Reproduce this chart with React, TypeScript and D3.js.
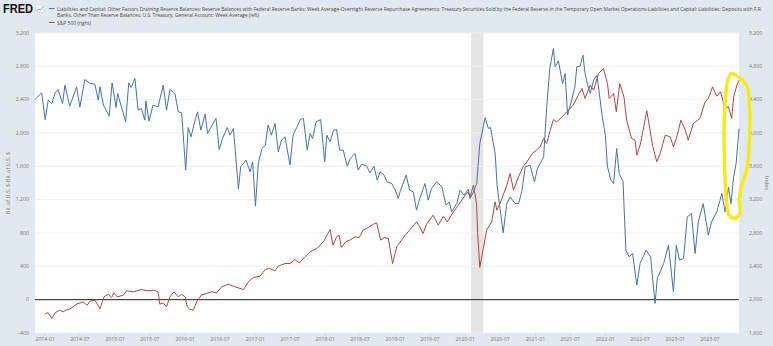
import React from "react";
import * as d3 from "d3";

const blueDates = ["2013-11-09","2013-12-14","2014-01-01","2014-01-17","2014-02-05","2014-02-22","2014-03-09","2014-04-02","2014-04-14","2014-05-09","2014-06-14","2014-07-01","2014-07-27","2014-08-22","2014-09-17","2014-10-05","2014-10-14","2014-11-01","2014-12-01","2014-12-16","2015-01-06","2015-01-14","2015-02-05","2015-02-25","2015-03-13","2015-03-26","2015-04-14","2015-05-01","2015-05-18","2015-06-05","2015-06-10","2015-06-27","2015-07-17","2015-08-13","2015-09-09","2015-09-26","2015-10-14","2015-11-09","2015-11-26","2015-12-14","2016-01-04","2016-01-17","2016-02-01","2016-02-22","2016-03-06","2016-03-23","2016-04-14","2016-04-27","2016-05-18","2016-06-10","2016-06-27","2016-07-14","2016-08-08","2016-08-22","2016-09-09","2016-10-05","2016-10-17","2016-11-14","2016-12-05","2016-12-18","2017-01-02","2017-01-17","2017-02-05","2017-02-22","2017-03-09","2017-03-26","2017-04-14","2017-05-01","2017-05-18","2017-06-05","2017-07-01","2017-07-17","2017-08-05","2017-08-25","2017-09-09","2017-09-29","2017-10-14","2017-10-27","2017-11-14","2017-12-08","2017-12-29","2018-01-09","2018-01-26","2018-02-13","2018-03-01","2018-03-17","2018-04-05","2018-04-25","2018-05-12","2018-06-05","2018-06-22","2018-07-09","2018-08-05","2018-08-22","2018-09-12","2018-09-29","2018-10-14","2018-11-04","2018-11-18","2018-12-14","2019-01-01","2019-01-17","2019-01-26","2019-02-27","2019-03-17","2019-04-05","2019-04-22","2019-05-09","2019-06-05","2019-06-22","2019-07-09","2019-08-05","2019-09-01","2019-09-23","2019-10-10","2019-10-22","2019-11-18","2019-12-05","2019-12-25","2020-01-17","2020-01-26","2020-02-13","2020-03-01","2020-03-17","2020-04-14","2020-05-01","2020-05-12","2020-06-05","2020-06-16","2020-07-17","2020-08-05","2020-08-22","2020-09-17","2020-10-05","2020-10-22","2020-11-09","2020-12-05","2020-12-27","2021-01-12","2021-02-13","2021-03-01","2021-03-17","2021-04-05","2021-04-14","2021-05-01","2021-05-23","2021-06-05","2021-06-18","2021-07-09","2021-07-26","2021-08-05","2021-08-22","2021-09-06","2021-09-17","2021-09-29","2021-10-14","2021-11-01","2021-11-18","2021-12-05","2021-12-16","2022-01-01","2022-01-12","2022-01-30","2022-02-13","2022-03-01","2022-03-14","2022-04-03","2022-04-18","2022-05-05","2022-05-23","2022-06-14","2022-07-01","2022-08-01","2022-08-25","2022-09-17","2022-09-29","2022-11-01","2022-11-26","2022-12-22","2023-01-06","2023-01-23","2023-02-13","2023-03-04","2023-03-26","2023-04-14","2023-05-01","2023-05-26","2023-06-22","2023-07-09","2023-08-05","2023-09-01","2023-09-17","2023-10-05","2023-10-18","2023-11-01","2023-11-14","2023-11-29"];
const blueValues = [2402,2482,2162,2394,2354,2482,2522,2354,2574,2322,2554,2310,2642,2594,2586,2394,2554,2334,2202,2602,2306,2474,2294,2134,2602,2546,2654,2274,2294,2154,2386,2142,2334,2314,2574,2274,2522,2474,2254,2242,1554,2066,1954,2154,2254,2034,2226,1994,2082,2174,1802,1934,2066,1974,2054,1334,1594,1674,1534,1654,1122,1642,1814,1854,2094,1974,2114,1774,1914,1954,1614,1974,2066,2166,2174,1794,1994,1934,2134,2162,1654,1974,1894,2034,2042,1794,1794,1602,1694,1754,1554,1626,1602,1522,1602,1434,1534,1494,1414,1394,1314,1214,1294,1494,1314,1294,1074,1214,1394,1194,1334,1414,1354,1134,1174,1054,1154,1314,1254,1322,1214,1294,1394,1874,2186,2054,2066,1754,1354,802,1154,1234,1154,1154,1294,1594,1614,1414,1574,1714,2314,2774,3014,2794,2866,2594,2714,2214,2394,2554,2794,2802,2934,2714,2594,2474,2634,2694,2394,2194,1974,1594,1434,1394,1814,1514,1420,594,514,554,174,434,594,514,-46,254,434,654,94,654,474,494,994,1034,554,934,1154,774,934,1054,1274,1054,1350,1150,1474,1634,2054];

const redDates = ["2014-01-02","2014-01-17","2014-02-05","2014-02-22","2014-03-17","2014-04-05","2014-04-18","2014-05-09","2014-06-14","2014-07-17","2014-08-08","2014-08-25","2014-09-17","2014-10-14","2014-11-04","2014-11-26","2014-12-14","2014-12-25","2015-01-12","2015-02-13","2015-03-01","2015-04-05","2015-05-18","2015-06-22","2015-07-21","2015-08-13","2015-08-22","2015-09-09","2015-09-26","2015-10-14","2015-11-04","2015-11-26","2015-12-14","2016-01-01","2016-01-12","2016-01-26","2016-02-13","2016-03-01","2016-03-26","2016-04-22","2016-05-18","2016-06-14","2016-07-09","2016-08-13","2016-09-17","2016-11-01","2016-11-26","2016-12-22","2017-01-26","2017-02-22","2017-03-17","2017-04-14","2017-05-01","2017-06-05","2017-07-01","2017-07-26","2017-08-18","2017-09-17","2017-10-14","2017-11-18","2017-12-22","2018-01-26","2018-02-10","2018-03-01","2018-03-14","2018-03-26","2018-04-18","2018-05-09","2018-06-05","2018-06-27","2018-07-17","2018-08-13","2018-09-09","2018-09-26","2018-10-17","2018-11-04","2018-11-26","2018-12-18","2019-01-09","2019-01-26","2019-02-22","2019-03-17","2019-04-22","2019-05-09","2019-05-26","2019-06-14","2019-07-17","2019-08-13","2019-09-09","2019-09-29","2019-11-01","2019-11-26","2020-01-01","2020-01-17","2020-01-26","2020-02-13","2020-02-29","2020-03-06","2020-03-17","2020-04-04","2020-04-22","2020-05-18","2020-06-05","2020-06-14","2020-07-01","2020-08-05","2020-08-22","2020-09-09","2020-10-05","2020-10-30","2020-11-14","2020-12-16","2021-01-26","2021-02-13","2021-03-01","2021-03-17","2021-04-05","2021-04-22","2021-05-17","2021-06-14","2021-07-17","2021-08-13","2021-09-01","2021-09-17","2021-10-14","2021-11-01","2021-11-26","2021-12-22","2022-01-12","2022-01-21","2022-02-13","2022-02-27","2022-03-17","2022-04-08","2022-04-22","2022-05-18","2022-06-05","2022-06-14","2022-07-01","2022-07-17","2022-08-05","2022-08-22","2022-09-06","2022-09-26","2022-10-14","2022-11-09","2022-12-05","2022-12-22","2023-01-09","2023-01-30","2023-02-22","2023-03-09","2023-04-05","2023-05-09","2023-06-05","2023-06-22","2023-07-14","2023-08-05","2023-08-25","2023-09-17","2023-10-05","2023-10-22","2023-11-01","2023-11-18","2023-11-29"];
const redValues = [1834,1842,1774,1842,1874,1854,1874,1886,1946,1974,1934,1986,1994,1894,2034,2066,2026,2082,2034,2054,2106,2094,2122,2106,2114,2094,1946,1962,1914,2034,2094,2034,2066,2034,1914,1882,1874,1974,2054,2074,2094,2082,2154,2186,2154,2122,2214,2266,2282,2362,2374,2346,2402,2434,2434,2482,2442,2514,2574,2614,2694,2842,2654,2754,2774,2626,2694,2714,2754,2746,2834,2866,2906,2922,2714,2746,2734,2434,2634,2690,2774,2834,2934,2874,2794,2906,3014,2894,3002,2934,3054,3134,3254,3294,3234,3374,3154,2794,2386,2614,2834,2934,3174,3074,3154,3374,3514,3314,3474,3600,3640,3754,3834,3934,3874,4014,4162,4134,4186,4254,4334,4454,4534,4414,4574,4514,4714,4774,4594,4414,4474,4254,4594,4434,4154,3934,3914,3734,3854,4034,4266,4034,3834,3654,3754,3974,3954,3834,3954,4154,4034,3914,4114,4174,4374,4414,4554,4442,4494,4294,4314,4174,4434,4574,4634];

const leftTicks = [3200, 2800, 2400, 2000, 1600, 1200, 800, 400, 0, -400];
const rightTicks = [5200, 4800, 4400, 4000, 3600, 3200, 2800, 2400, 2000, 1600];
const xTickLabels = ["2014-01","2014-07","2015-01","2015-07","2016-01","2016-07","2017-01","2017-07","2018-01","2018-07","2019-01","2019-07","2020-01","2020-07","2021-01","2021-07","2022-01","2022-07","2023-01","2023-07"];
const recession = ["2020-02-01", "2020-04-05"];
const domainDates = ["2013-11-09", "2023-11-29"];

const legend1a = "Liabilities and Capital: Other Factors Draining Reserve Balances: Reserve Balances with Federal Reserve Banks: Week Average-Overnight Reverse Repurchase Agreements: Treasury Securities Sold by the Federal Reserve in the Temporary Open Market Operations-Liabilities and Capital: Liabilities: Deposits with F.R.";
const legend1b = "Banks, Other Than Reserve Balances: U.S. Treasury, General Account: Week Average (left)";
const legend2 = "S&P 500 (right)";

// hand-drawn highlight loop, in data space (date, right-axis value)
const highlightDates = ["2023-10-22","2023-12-04","2024-01-08","2024-01-22","2024-01-22","2024-01-08","2023-12-13","2023-11-30","2023-12-04","2023-11-08","2023-10-09","2023-09-26","2023-09-17","2023-09-12","2023-09-22","2023-10-04"];
const highlightValues = [4714,4658,4574,4358,3878,3554,3374,3194,3038,2978,3014,3158,3470,4070,4478,4658];

const parse = d3.timeParse("%Y-%m-%d");
const parseM = d3.timeParse("%Y-%m");

export default function App() {
  const W = 773, H = 346;
  const left = 35, right = 739, top = 33, bottom = 333;
  const x = d3.scaleTime().domain(domainDates.map((d) => parse(d)!)).range([left, right]);
  const yL = d3.scaleLinear().domain([-400, 3200]).range([bottom, top]);
  const yR = d3.scaleLinear().domain([1600, 5200]).range([bottom, top]);

  const blue = blueDates.map((d, i) => ({ d: parse(d)!, v: blueValues[i] }));
  const red = redDates.map((d, i) => ({ d: parse(d)!, v: redValues[i] }));
  const lineL = d3.line<{ d: Date; v: number }>().x((p) => x(p.d)).y((p) => yL(p.v));
  const lineR = d3.line<{ d: Date; v: number }>().x((p) => x(p.d)).y((p) => yR(p.v));
  const hl = highlightDates.map((d, i) => ({ d: parse(d)!, v: highlightValues[i] }));
  const hlLine = d3.line<{ d: Date; v: number }>().x((p) => x(p.d)).y((p) => yR(p.v)).curve(d3.curveCatmullRomClosed);

  const font = "'Open Sans', 'DejaVu Sans', sans-serif";
  const rx0 = x(parse(recession[0])!), rx1 = x(parse(recession[1])!);

  return (
    <svg width={W} height={H} style={{ position: "fixed", left: 0, top: 0 }} fontFamily={font}>
      <rect x={0} y={0} width={W} height={H} fill="#e1e9f0" />
      {/* FRED logo */}
      <text x={3} y={13} fontSize={12} fontWeight={900} fill="#111" fontFamily="'Liberation Sans', Arial, sans-serif" textLength={30} lengthAdjust="spacingAndGlyphs">FRED</text>
      <rect x={36} y={5} width={8} height={7} fill="#f2f6f9" stroke="#b9c9d6" strokeWidth={0.4} />
      <polyline points="36.5,11 38.5,9 40.5,10 43.5,6" fill="none" stroke="#7fb069" strokeWidth={0.9} />
      {/* legend */}
      <line x1={49} x2={54.5} y1={8.5} y2={8.5} stroke="#4572a7" strokeWidth={1} />
      <text x={57} y={10.5} fontSize={4.6} fill="#444" textLength={705} lengthAdjust="spacingAndGlyphs">{legend1a}</text>
      <text x={57} y={17.3} fontSize={5.0} fill="#444" textLength={202} lengthAdjust="spacingAndGlyphs">{legend1b}</text>
      <line x1={49} x2={54.5} y1={22.5} y2={22.5} stroke="#aa4643" strokeWidth={1} />
      <text x={57} y={24.5} fontSize={5.0} fill="#444" textLength={34} lengthAdjust="spacingAndGlyphs">{legend2}</text>

      {/* plot */}
      <rect x={left} y={top} width={right - left} height={bottom - top} fill="#fff" />
      <rect x={rx0} y={top} width={rx1 - rx0} height={bottom - top} fill="#e4e4e4" />
      {leftTicks.map((t) => (
        <line key={"g" + t} x1={left} x2={right} y1={yL(t)} y2={yL(t)} stroke="#f0f0f0" strokeWidth={1} />
      ))}
      {leftTicks.map((t) => (
        <text key={"l" + t} x={29} y={yL(t) + 1.8} fontSize={5.2} fill="#777" textAnchor="end">{d3.format(",")(t)}</text>
      ))}
      {rightTicks.map((t) => (
        <text key={"r" + t} x={749} y={yR(t) + 1.8} fontSize={5.2} fill="#777" textAnchor="start">{d3.format(",")(t)}</text>
      ))}
      {xTickLabels.map((t) => {
        const xx = x(parseM(t)!);
        return (
          <g key={"x" + t}>
            <line x1={xx} x2={xx} y1={bottom} y2={bottom + 3} stroke="#ccd6eb" strokeWidth={0.8} />
            <text x={xx} y={340.5} fontSize={5.2} fill="#777" textAnchor="middle">{t}</text>
          </g>
        );
      })}
      <line x1={left} x2={right} y1={yL(0)} y2={yL(0)} stroke="#222" strokeWidth={1} />
      <path d={lineR(red) || ""} fill="none" stroke="#aa4643" strokeWidth={1} strokeLinejoin="round" />
      <path d={lineL(blue) || ""} fill="none" stroke="#4572a7" strokeWidth={1} strokeLinejoin="round" />

      {/* axis titles */}
      <text transform={`translate(9.5,${(top + bottom) / 2}) rotate(-90)`} fontSize={5.5} fill="#777" textAnchor="middle">Bil. of U.S. $-Bil. of U.S. $</text>
      <text transform={`translate(765,${(top + bottom) / 2}) rotate(90)`} fontSize={5.5} fill="#777" textAnchor="middle">Index</text>

      {/* highlight annotation */}
      <path d={hlLine(hl) || ""} fill="none" stroke="#f7ea1a" strokeWidth={3.5} strokeLinejoin="round" />
    </svg>
  );
}
